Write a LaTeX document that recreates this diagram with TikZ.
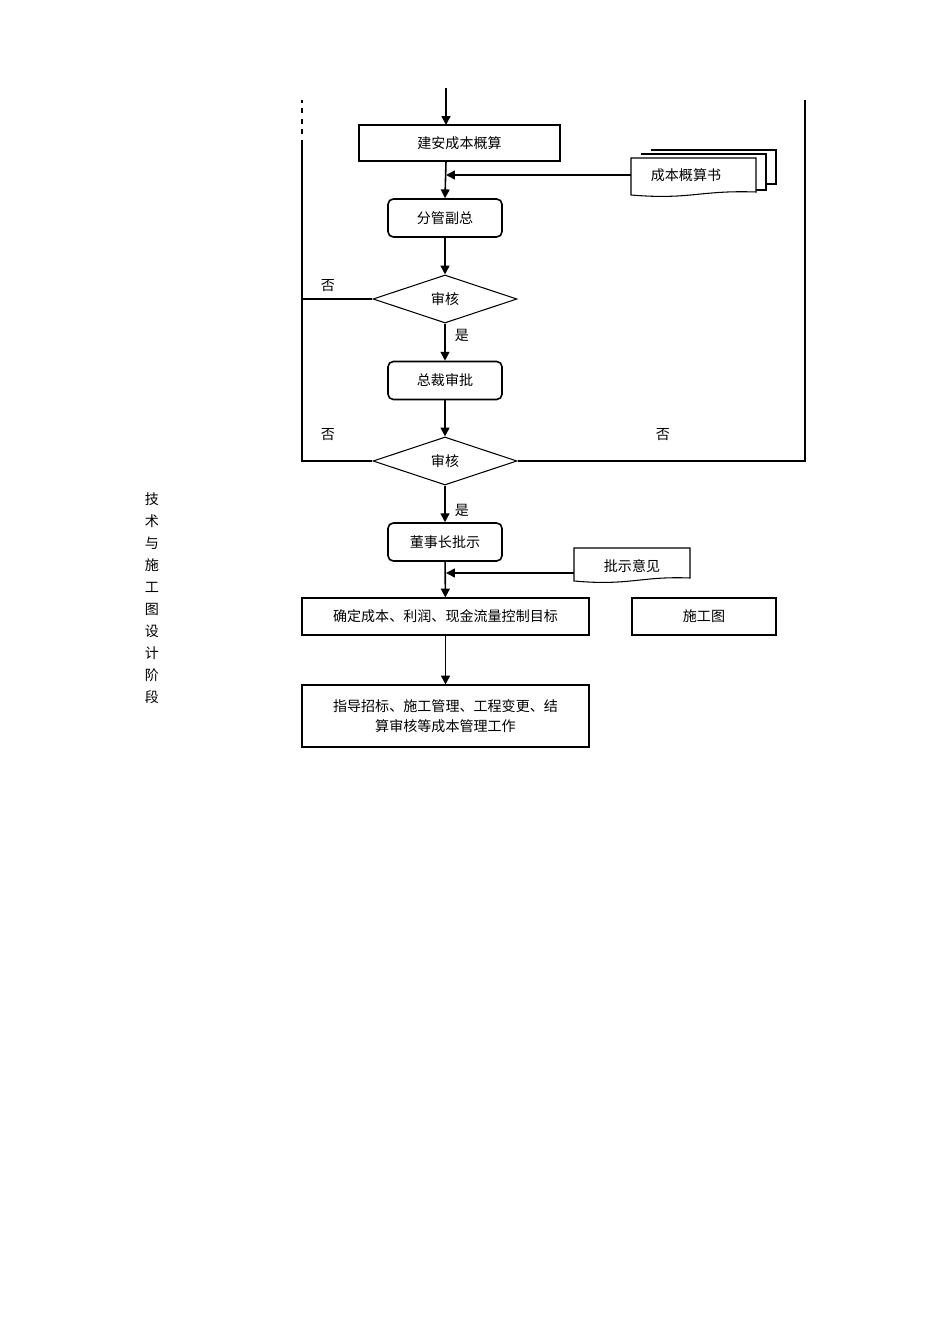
\documentclass[tikz,border=0pt]{standalone}
\usepackage{fontspec}
\newfontfamily\cjk{Noto Sans CJK SC}
\usetikzlibrary{arrows.meta,shapes.geometric}
\begin{document}
\begin{tikzpicture}[x=0.02cm,y=-0.02cm,
  every node/.style={font=\cjk\fontsize{8}{11}\selectfont},
  arr/.style={-{Triangle[length=5pt,width=5pt]},line width=0.9pt},
  ln/.style={line width=0.9pt},
  pbox/.style={draw,line width=0.6pt,rectangle,inner sep=0pt},
  rbox/.style={draw,line width=0.9pt,rounded corners=3pt,inner sep=0pt,minimum width=114*0.02cm,minimum height=38*0.02cm},
  dec/.style={draw,line width=0.6pt,diamond,aspect=3,inner sep=0pt,minimum width=144*0.02cm,minimum height=48*0.02cm},
  lbl/.style={inner sep=0pt}]
\useasboundingbox (0,0) rectangle (950,1344);
% nodes
\coordinate (top) at (446,88);
\node[pbox,minimum width=201*0.02cm,minimum height=36*0.02cm] (b1) at (459.5,143) {建安成本概算};
\node[rbox] (b2) at (445,218) {分管副总};
\node[dec] (d1) at (445,299) {审核};
\node[rbox] (b3) at (445,380.5) {总裁审批};
\node[dec] (d2) at (445,461) {审核};
\node[rbox] (b4) at (445,542) {董事长批示};
\node[pbox,minimum width=287*0.02cm,minimum height=37*0.02cm] (b5) at (445.5,616.5) {确定成本、利润、现金流量控制目标};
\node[pbox,minimum width=287*0.02cm,minimum height=62*0.02cm,align=center] (b6) at (445.5,716) {指导招标、施工管理、工程变更、结\\算审核等成本管理工作};
\node[pbox,line width=0.9pt,minimum width=144*0.02cm,minimum height=37*0.02cm] (sg) at (704,616.5) {施工图};
% documents
\draw[line width=0.6pt,fill=white] (651,150) -- (776,150) -- (776,184) -- (766,184);
\draw[line width=0.6pt,fill=white] (641,154) -- (766,154) -- (766,190) -- (756,190);
\draw[line width=0.6pt,fill=white] (631,158) -- (756,158) -- (756,192) .. controls (700,190) and (690,200) .. (631,195) -- cycle;
\node[lbl] (doc1) at (686,175) {成本概算书};
\coordinate (doc1w) at (631,175);
\draw[line width=0.6pt,fill=white] (574,548) -- (690,548) -- (690,578) .. controls (640,576) and (630,586) .. (574,581) -- cycle;
\node[lbl] (doc2) at (632,566) {批示意见};
\coordinate (doc2w) at (574,573);
% vertical label
\node[lbl,align=center,font=\cjk\fontsize{8}{12.5}\selectfont] (side) at (152,598) {技\\术\\与\\施\\工\\图\\设\\计\\阶\\段};
% connectors
\draw[arr] (top) -- (446,125);
\draw[arr] (446,161) -- (b2.north);
\draw[arr] (doc1w) -- (446,175);
\draw[arr] (b2) -- (d1);
\draw[arr] (d1) -- (b3);
\draw[arr] (b3) -- (d2);
\draw[arr] (d2) -- (b4);
\draw[arr] (b4) -- (b5);
\draw[arr] (doc2w) -- (446,573);
\draw[arr] (b5) -- (b6);
\coordinate (L1) at (302,299);
\coordinate (L2) at (302,461);
\coordinate (R2) at (805,461);
\draw[ln] (d1.west) -- (L1);
\draw[line width=0.6pt] (d2.west) -- (L2) -- (302,145);
\draw[line width=0.6pt,dashed] (302,145) -- (302,100);
\draw[line width=0.6pt] (d2.east) -- (R2) -- (805,100);
% labels
\node[lbl] at (328,286) {否};
\node[lbl] at (462,335) {是};
\node[lbl] at (328,435) {否};
\node[lbl] at (663,435) {否};
\node[lbl] at (462,510) {是};
\end{tikzpicture}
\end{document}
